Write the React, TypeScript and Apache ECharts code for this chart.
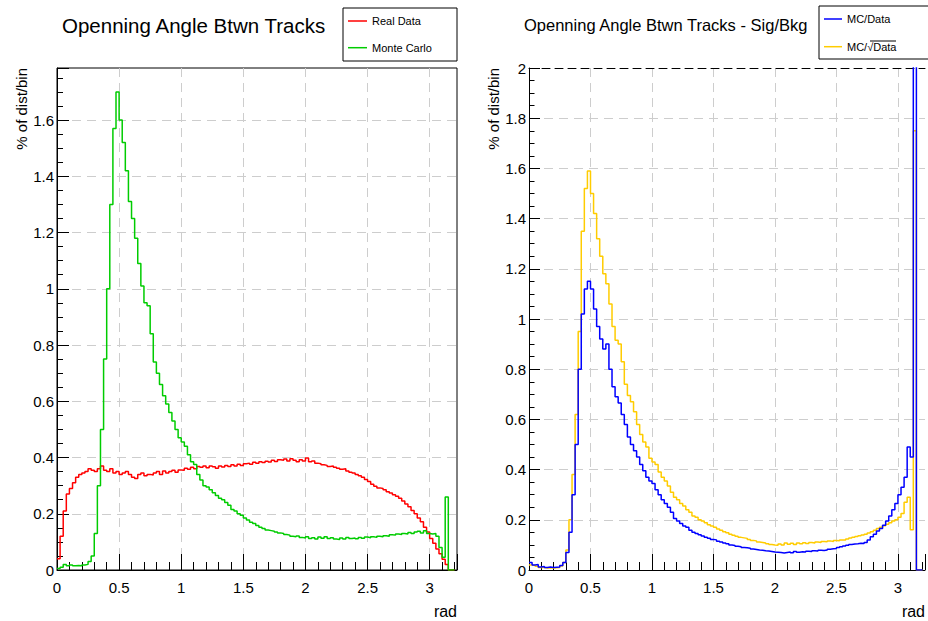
import React, { useEffect, useRef } from 'react';
import * as echarts from 'echarts';

// ---- data (bin width 0.025 rad, left bin edges start at 0) ----
const BIN_WIDTH = 0.025;
const X_MAX = 3.22;

const realData = [
  0.04, 0.12, 0.21, 0.27, 0.29, 0.31, 0.33, 0.34,
  0.345, 0.35, 0.36, 0.355, 0.35, 0.36, 0.37, 0.355,
  0.35, 0.36, 0.345, 0.35, 0.34, 0.345, 0.35, 0.34,
  0.33, 0.325, 0.34, 0.345, 0.335, 0.34, 0.338, 0.345,
  0.35, 0.34, 0.352, 0.345, 0.35, 0.355, 0.348, 0.356,
  0.355, 0.362, 0.358, 0.365, 0.36, 0.368, 0.365, 0.37,
  0.364, 0.37, 0.367, 0.362, 0.37, 0.366, 0.372, 0.368,
  0.374, 0.37, 0.376, 0.372, 0.378, 0.38, 0.376, 0.383,
  0.38, 0.385, 0.382, 0.387, 0.384, 0.39, 0.386, 0.392,
  0.39, 0.395, 0.388, 0.396, 0.39, 0.385, 0.392, 0.388,
  0.398, 0.385, 0.388, 0.38, 0.378, 0.374, 0.372, 0.368,
  0.37, 0.365, 0.362, 0.358, 0.36, 0.352, 0.348, 0.345,
  0.34, 0.335, 0.33, 0.322, 0.315, 0.305, 0.298, 0.292,
  0.29, 0.285, 0.278, 0.274, 0.268, 0.262, 0.255, 0.245,
  0.235, 0.225, 0.212, 0.2, 0.185, 0.172, 0.152, 0.135,
  0.112, 0.095, 0.075, 0.058, 0.038, 0.02, 0, 0,
];

const monteCarlo = [
  0.005, 0.01, 0.02, 0.015, 0.018, 0.015, 0.016, 0.015,
  0.018, 0.02, 0.03, 0.05, 0.13, 0.30, 0.50, 0.75,
  1.0, 1.3, 1.57, 1.70, 1.60, 1.52, 1.42, 1.31,
  1.25, 1.18, 1.09, 1.01, 0.95, 0.94, 0.84, 0.74,
  0.70, 0.66, 0.62, 0.59, 0.56, 0.53, 0.50, 0.47,
  0.455, 0.44, 0.41, 0.385, 0.375, 0.34, 0.32, 0.30,
  0.295, 0.285, 0.275, 0.265, 0.255, 0.25, 0.24, 0.23,
  0.215, 0.21, 0.2, 0.195, 0.185, 0.178, 0.17, 0.165,
  0.158, 0.152, 0.148, 0.142, 0.14, 0.138, 0.135, 0.132,
  0.13, 0.126, 0.124, 0.12, 0.118, 0.121, 0.116, 0.114,
  0.118, 0.112, 0.115, 0.11, 0.117, 0.113, 0.118, 0.112,
  0.115, 0.11, 0.108, 0.114, 0.11, 0.116, 0.112, 0.114,
  0.111, 0.116, 0.113, 0.117, 0.115, 0.118, 0.116, 0.12,
  0.118, 0.122, 0.12, 0.125, 0.124, 0.128, 0.126, 0.13,
  0.128, 0.133, 0.13, 0.135, 0.138, 0.132, 0.14, 0.13,
  0.128, 0.13, 0.12, 0.08, 0.045, 0.26, 0, 0,
];

const mcOverData = [
  0.03, 0.02, 0.022, 0.012, 0.014, 0.01, 0.012, 0.01,
  0.011, 0.012, 0.018, 0.03, 0.07, 0.15, 0.30, 0.50,
  0.80, 1.02, 1.12, 1.15, 1.12, 1.04, 0.97, 0.92,
  0.88, 0.90, 0.80, 0.73, 0.69, 0.665, 0.62, 0.58,
  0.53, 0.50, 0.475, 0.45, 0.42, 0.395, 0.37, 0.355,
  0.345, 0.32, 0.30, 0.28, 0.265, 0.25, 0.23, 0.205,
  0.195, 0.185, 0.175, 0.17, 0.158, 0.15, 0.145, 0.14,
  0.135, 0.13, 0.126, 0.122, 0.12, 0.115, 0.112, 0.108,
  0.105, 0.1, 0.098, 0.095, 0.093, 0.09, 0.089, 0.087,
  0.084, 0.082, 0.08, 0.079, 0.077, 0.076, 0.074, 0.072,
  0.071, 0.07, 0.068, 0.07, 0.072, 0.069, 0.074, 0.071,
  0.073, 0.072, 0.075, 0.074, 0.077, 0.076, 0.079, 0.078,
  0.08, 0.083, 0.085, 0.086, 0.09, 0.093, 0.096, 0.099,
  0.102, 0.104, 0.105, 0.107, 0.106, 0.11, 0.12, 0.132,
  0.142, 0.155, 0.165, 0.178, 0.195, 0.215, 0.24, 0.265,
  0.30, 0.33, 0.37, 0.49, 0.45, 2.6, 0, 0,
];

const mcOverSqrtData = [
  0.02, 0.018, 0.015, 0.01, 0.01, 0.008, 0.009, 0.008,
  0.009, 0.01, 0.016, 0.03, 0.08, 0.20, 0.38, 0.62,
  0.95, 1.35, 1.52, 1.59, 1.50, 1.42, 1.32, 1.25,
  1.18, 1.14, 1.06, 0.97, 0.915, 0.90, 0.83, 0.74,
  0.695, 0.67, 0.63, 0.58, 0.54, 0.51, 0.49, 0.445,
  0.43, 0.42, 0.39, 0.37, 0.355, 0.335, 0.31, 0.29,
  0.28, 0.265, 0.255, 0.24, 0.23, 0.215, 0.21, 0.2,
  0.195, 0.188, 0.18, 0.175, 0.17, 0.163, 0.158, 0.152,
  0.148, 0.142, 0.138, 0.134, 0.13, 0.128, 0.126, 0.122,
  0.118, 0.116, 0.112, 0.11, 0.108, 0.105, 0.102, 0.1,
  0.099, 0.104, 0.1, 0.108, 0.103, 0.107, 0.102, 0.108,
  0.105, 0.109, 0.106, 0.11, 0.108, 0.112, 0.11, 0.114,
  0.113, 0.116, 0.114, 0.118, 0.117, 0.12, 0.12, 0.124,
  0.127, 0.13, 0.133, 0.136, 0.139, 0.142, 0.147, 0.152,
  0.158, 0.165, 0.17, 0.176, 0.182, 0.188, 0.195, 0.2,
  0.21, 0.225, 0.27, 0.29, 0.16, 1.75, 0, 0,
];

const leftTitle = 'Openning Angle Btwn Tracks';
const rightTitle = 'Openning Angle Btwn Tracks - Sig/Bkg';
const xName = 'rad';
const yName = '% of dist/bin';
const X_INTERVAL = 0.5;
const Y_INTERVAL = 0.2;
const LEFT_Y_MAX = 1.785;
const RIGHT_Y_MAX = 2;

const FONT = '"Liberation Sans", Arial, Helvetica, sans-serif';
const GRID_LINE = { color: '#cdcdcd', width: 1, type: [9, 6] as number[] };

function toSteps(values: number[]) {
  const pts: number[][] = values.map((v, i) => [+(i * BIN_WIDTH).toFixed(4), v]);
  pts.push([+(values.length * BIN_WIDTH).toFixed(4), values[values.length - 1]]);
  return pts;
}

const isMultiple = (v: number, step: number) => Math.abs(v / step - Math.round(v / step)) < 1e-6;

function makeXAxis(gridIndex: number) {
  return {
    gridIndex,
    type: 'value',
    min: 0,
    max: X_MAX,
    interval: X_INTERVAL,
    axisLine: { show: true, onZero: false, lineStyle: { color: '#000', width: 1 } },
    axisTick: { show: true, inside: true, length: 16, lineStyle: { color: '#000', width: 1 } },
    minorTick: { show: true, splitNumber: 5, length: 8, lineStyle: { color: '#000', width: 1 } },
    axisLabel: {
      margin: 10,
      fontSize: 15,
      color: '#000',
      fontFamily: FONT,
      formatter: (v: number) => (isMultiple(v, X_INTERVAL) ? String(+v.toFixed(2)) : ''),
    },
    splitLine: { show: true, showMinLine: false, showMaxLine: false, lineStyle: GRID_LINE },
    name: xName,
    nameLocation: 'end',
    nameGap: 0,
    nameTextStyle: {
      fontSize: 16,
      color: '#000',
      fontFamily: FONT,
      align: 'right',
      verticalAlign: 'top',
      padding: [33, 0, 0, 0],
    },
  };
}

function makeYAxis(gridIndex: number, max: number, tickLen: number) {
  return {
    gridIndex,
    type: 'value',
    min: 0,
    max,
    interval: Y_INTERVAL,
    axisLine: { show: true, onZero: false, lineStyle: { color: '#000', width: 1 } },
    axisTick: { show: true, inside: true, length: tickLen, lineStyle: { color: '#000', width: 1 } },
    minorTick: { show: true, splitNumber: 4, length: tickLen / 2, lineStyle: { color: '#000', width: 1 } },
    axisLabel: {
      margin: 3,
      fontSize: 15,
      color: '#000',
      fontFamily: FONT,
      formatter: (v: number) => (isMultiple(v, Y_INTERVAL) ? String(+v.toFixed(1)) : ''),
    },
    splitLine: { show: true, showMinLine: false, showMaxLine: false, lineStyle: GRID_LINE },
    name: yName,
    nameLocation: 'end',
    nameRotate: 90,
    nameGap: 0,
    nameTextStyle: {
      fontSize: 15,
      color: '#000',
      fontFamily: FONT,
      align: 'right',
      verticalAlign: 'bottom',
      padding: [0, 0, 28, 0],
    },
  };
}

function stepSeries(name: string, values: number[], color: string, axisIndex: number) {
  return {
    name,
    type: 'line',
    step: 'end',
    symbol: 'none',
    clip: true,
    xAxisIndex: axisIndex,
    yAxisIndex: axisIndex,
    data: toSteps(values),
    lineStyle: { color, width: 1.5 },
    itemStyle: { color },
    emphasis: { disabled: true },
  };
}

function legendBox(x: number, y: number, w: number, h: number) {
  return {
    type: 'rect',
    shape: { x, y, width: w, height: h },
    style: { fill: '#fff', stroke: '#000', lineWidth: 1 },
    z: 100,
  };
}

function legendLine(x1: number, x2: number, y: number, color: string) {
  return {
    type: 'line',
    shape: { x1, y1: y, x2, y2: y },
    style: { stroke: color, lineWidth: 1.5 },
    z: 101,
  };
}

function legendText(x: number, y: number, text: string) {
  return {
    type: 'text',
    x,
    y,
    style: { text, fill: '#000', fontSize: 11, fontFamily: FONT, verticalAlign: 'middle', align: 'left' },
    z: 101,
  };
}

const option = {
  animation: false,
  backgroundColor: '#fff',
  textStyle: { fontFamily: FONT },
  title: [
    {
      text: leftTitle,
      left: 62,
      top: 15,
      padding: 0,
      textStyle: { fontSize: 20.5, fontWeight: 'normal', color: '#000', fontFamily: FONT },
    },
    {
      text: rightTitle,
      left: 524,
      top: 16,
      padding: 0,
      textStyle: { fontSize: 16.5, fontWeight: 'normal', color: '#000', fontFamily: FONT },
    },
  ],
  grid: [
    { left: 57, top: 68, width: 400, height: 502, show: true, borderColor: '#000', borderWidth: 1 },
    { left: 529, top: 68, width: 401, height: 502, show: false },
  ],
  xAxis: [
    makeXAxis(0),
    makeXAxis(1),
    {
      gridIndex: 1,
      type: 'value',
      position: 'top',
      min: 0,
      max: X_MAX,
      axisLine: { show: true, onZero: false, lineStyle: { color: '#000', width: 1, type: [8, 5] } },
      axisTick: { show: false },
      axisLabel: { show: false },
      splitLine: { show: false },
    },
  ],
  yAxis: [makeYAxis(0, LEFT_Y_MAX, 12), makeYAxis(1, RIGHT_Y_MAX, 11)],
  series: [
    stepSeries('Real Data', realData, '#ff0000', 0),
    stepSeries('Monte Carlo', monteCarlo, '#00cc00', 0),
    stepSeries('MC/\u221AData', mcOverSqrtData, '#ffcc00', 1),
    stepSeries('MC/Data', mcOverData, '#0000ff', 1),
  ],
  graphic: [
    legendBox(343, 8, 114, 53),
    legendLine(348, 367, 21, '#ff0000'),
    legendText(372, 21, 'Real Data'),
    legendLine(348, 367, 47.7, '#00cc00'),
    legendText(372, 47.7, 'Monte Carlo'),
    legendBox(819, 6, 112, 53),
    legendLine(824, 842, 19, '#0000ff'),
    legendText(847, 19, 'MC/Data'),
    legendLine(824, 842, 46.7, '#ffcc00'),
    legendText(847, 46.7, 'MC/\u221AData'),
    {
      type: 'line',
      shape: { x1: 870, y1: 41, x2: 896, y2: 41 },
      style: { stroke: '#000', lineWidth: 1 },
      z: 101,
    },
  ],
};

export default function App() {
  const ref = useRef<HTMLDivElement>(null);
  useEffect(() => {
    if (!ref.current) return;
    const chart = echarts.init(ref.current, null, { renderer: 'svg' });
    chart.setOption(option as any);
    return () => {
      chart.dispose();
    };
  }, []);
  return (
    <div
      ref={ref}
      style={{ position: 'absolute', left: 0, top: 0, width: 928, height: 621, background: '#fff' }}
    />
  );
}
